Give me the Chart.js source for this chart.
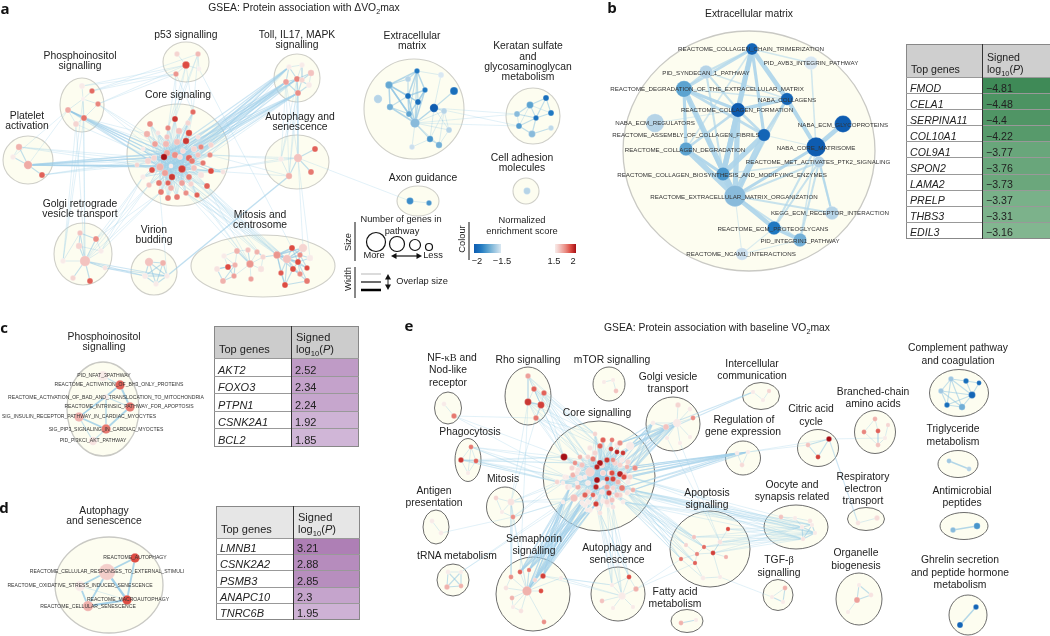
<!DOCTYPE html>
<html>
<head>
<meta charset="utf-8">
<title>GSEA enrichment maps</title>
<script src="https://cdn.jsdelivr.net/npm/chart.js@4/dist/chart.umd.min.js"></script>
<style>
    html, body { margin: 0; padding: 0; background: #fff; overflow: hidden; }
    #page { position: relative; width: 1050px; height: 636px; font-family: "Liberation Sans", Arial, sans-serif; color: #222; }
    #network { position: absolute; left: 0; top: 0; }
    .txt { position: absolute; transform: translate(-50%, -50%); white-space: nowrap; font-size: 10.35px; line-height: 1; }
    .leg { font-size: 9.3px; }
    .panel { font-weight: bold; font-size: 15px; color: #111; font-family: "Open Sans", "Liberation Sans", sans-serif; }
    .pw { font-size: 6.2px; color: #333; }
    .pw.small { font-size: 5.08px; }
    .rot { transform: translate(-50%, -50%) rotate(-90deg); }
    sub { font-size: 70%; line-height: 0; }
    .serif { font-family: "Liberation Serif", serif; }
    table.genes { position: absolute; border-collapse: collapse; table-layout: fixed; color: #222; border: 1.5px solid #888; }
    table.genes th { font-weight: normal; text-align: left; vertical-align: bottom; padding: 0 0 2px 4px; border: 0; line-height: 1.15; }
    table.genes td { padding: 0 0 0 3px; border-top: 1.5px solid #999; line-height: 1; vertical-align: bottom; }
    table.genes td:first-child { font-style: italic; }
    table.genes .split { border-left: 1.5px solid #333; }
</style>
</head>
<body>
<div id="page"><canvas id="network" width="1050" height="636"></canvas></div>
<script>
// Pathway nodes: [layout x, layout y, genes in pathway, normalized enrichment score]

// Panel a, protein association with change in VO2max
const aPlatelet = [[19,147,36,1.6],[13,157,25,1.42],[28,165,64,1.62],[42,175,30,1.8]];
const aPhospho = [[82,86,30,1.42],[92,91,25,1.78],[83,99,16,1.4],[98,104,25,1.72],[68,110,30,1.62],[84,118,30,1.76],[76,124,30,1.5]];
const aP53 = [[177,54,25,1.5],[198,54,25,1.58],[186,65,49,1.85],[199,69,20,1.4],[176,74,25,1.68]];
const aCore = [[193,112,25,1.78],[175,119,30,1.9],[150,124,30,1.7],[168,128,25,1.72],[188,123,25,1.5],[189,133,36,1.85],[179,131,36,1.55],[147,134,36,1.6],[167,137,25,1.55],[158,133,20,1.45],
    [186,141,36,1.9],[177,142,36,1.56],[198,137,20,1.45],[155,144,30,1.65],[166,144,36,1.58],[201,147,25,1.72],[211,145,25,1.5],[194,149,30,1.5],[183,151,25,1.48],[167,153,36,1.65],
    [143,149,20,1.42],[164,157,36,2.0],[175,155,36,1.7],[189,158,36,1.8],[192,161,30,1.75],[210,155,25,1.7],[198,155,25,1.55],[180,157,25,1.48],[203,163,25,1.75],[148,161,36,1.5],
    [154,158,30,1.5],[160,167,49,1.6],[137,165,20,1.5],[171,166,16,1.42],[182,169,49,1.88],[194,168,30,1.55],[152,170,30,1.85],[143,177,25,1.42],[165,173,36,1.65],[172,177,36,1.9],
    [168,183,25,1.8],[189,177,30,1.75],[211,171,30,1.85],[201,175,36,1.45],[223,172,20,1.45],[159,183,30,1.75],[149,185,25,1.55],[182,183,30,1.65],[191,184,25,1.5],[207,186,30,1.8],
    [171,188,30,1.6],[161,192,30,1.75],[177,197,30,1.75],[168,198,30,1.75],[186,193,25,1.7],[197,195,25,1.8]];
const aToll = [[289,67,25,1.42],[286,82,30,1.65],[297,79,30,1.72],[298,93,30,1.7],[302,65,25,1.42],[311,73,36,1.55],[309,85,30,1.42],[302,80,25,1.5]];
const aAutophagy = [[281,159,25,1.42],[298,158,64,1.55],[289,176,36,1.6],[315,149,30,1.8],[311,172,30,1.75]];
const aGolgi = [[80,233,25,1.55],[96,239,30,1.7],[79,246,36,1.5],[101,251,25,1.42],[63,261,25,1.42],[85,261,100,1.55],[105,268,20,1.45],[73,278,25,1.5],[90,281,30,1.8]];
const aVirion = [[149,262,64,1.55],[163,263,30,1.6],[145,276,30,1.42],[167,276,25,1.42],[156,284,25,1.42]];
const aMitosis = [[224,256,25,1.42],[237,251,30,1.6],[248,250,25,1.55],[257,252,25,1.6],[263,257,25,1.5],[217,269,30,1.45],[228,267,30,1.85],[235,265,25,1.6],[250,264,49,1.68],[261,269,36,1.45],
    [223,281,30,1.6],[234,276,25,1.65],[251,279,25,1.65],[277,255,49,1.68],[287,259,64,1.55],[292,248,30,1.85],[281,273,25,1.82],[293,269,30,1.85],[285,285,30,1.85],[298,262,30,1.85],
    [303,248,64,1.5],[310,258,36,1.42],[307,268,25,1.85],[300,274,25,1.7],[307,281,30,1.75],[300,255,25,1.7]];
const aEcm = [[417,71,25,-1.85],[441,75,30,-1.42],[408,79,30,-1.5],[389,85,49,-1.68],[425,90,25,-1.85],[454,91,56,-1.9],[378,99,64,-1.5],[408,96,30,-1.9],[418,102,30,-1.9],[390,107,36,-1.65],
    [434,108,64,-2],[444,111,30,-1.5],[409,114,30,-1.7],[415,123,81,-1.6],[449,130,30,-1.5],[430,139,36,-1.75],[439,145,36,-1.65],[412,147,25,-1.45]];
const aKeratan = [[546,98,30,-1.9],[530,105,42,-1.7],[517,114,30,-1.6],[551,113,30,-1.85],[536,118,25,-1.88],[519,126,30,-1.72],[532,134,42,-1.6],[551,128,25,-1.48]];
const aAxon = [[410,201,42,-1.78],[429,203,25,-1.75]];
const aAdhesion = [[527,191,42,-1.5]];

// Panel b, Extracellular matrix close-up
const bNodes = [[752,49,130,-1.95],[811,63,169,-1.42],[706,72,169,-1.5],[684,89,256,-1.7],[787,99,144,-1.95],[738,110,196,-2],[655,123,324,-1.5],[764,135,144,-1.95],[843,124,276,-2],
    [816,147,361,-2],[686,149,169,-1.7],[819,162,121,-1.5],[723,174,169,-1.75],[735,196,441,-1.6],[832,213,169,-1.5],[774,228,169,-1.85],[800,240,169,-1.65],[742,254,144,-1.45]];
const bNames = ["REACTOME_COLLAGEN_CHAIN_TRIMERIZATION","PID_AVB3_INTEGRIN_PATHWAY","PID_SYNDECAN_1_PATHWAY","REACTOME_DEGRADATION_OF_THE_EXTRACELLULAR_MATRIX","NABA_COLLAGENS","REACTOME_COLLAGEN_FORMATION","NABA_ECM_REGULATORS","REACTOME_ASSEMBLY_OF_COLLAGEN_FIBRILS","NABA_ECM_GLYCOPROTEINS",
    "NABA_CORE_MATRISOME","REACTOME_COLLAGEN_DEGRADATION","REACTOME_MET_ACTIVATES_PTK2_SIGNALING","REACTOME_COLLAGEN_BIOSYNTHESIS_AND_MODIFYING_ENZYMES","REACTOME_EXTRACELLULAR_MATRIX_ORGANIZATION","KEGG_ECM_RECEPTOR_INTERACTION","REACTOME_ECM_PROTEOGLYCANS","PID_INTEGRIN1_PATHWAY","REACTOME_NCAM1_INTERACTIONS"];
const bNameX = [751,811,706,707,787,737,655,686,843,816,685,818,722,734,830,773,800,741];
const bNameY = [49,63,73,89,100,110,123,135,125,148,150,162,175,197,213,229,241,254];
const bLinks = [[0,5,7],[0,12,9],[0,4,8],[0,7,5],[4,9,7],[4,5,6],[5,12,9],[5,13,9],[7,13,11],[7,12,9],[12,13,11],[3,10,5],[3,13,9],[3,5,5],[10,13,9],[10,12,5],[5,10,4],[3,12,4],[3,7,4],
    [8,9,8],[9,13,5],[13,15,7],[15,16,5],[9,15,3],[9,16,2],[11,15,3],[11,16,3],[14,11,3],[14,9,3],[13,14,3],[13,16,3],[2,0,3],[2,3,3],[2,5,3],[2,4,2],[2,12,3],[1,9,2],[1,0,2],
    [17,13,1],[17,16,1],[17,15,1],[7,9,1],[7,4,4],[5,7,4],[9,11,3],[4,13,3],[11,13,3],[11,12,2],[0,3,4],[0,10,2],[3,4,2],[6,5,1]];

// Panels c and d, single cluster close-ups
const cNodes = [[103,376,100,1.42],[120,385,81,1.8],[106,397,25,1.42],[130,407,81,1.75],[79,417,81,1.6],[106,429,81,1.75],[93,441,64,1.45]];
const cNames = ["PID_NFAT_3PATHWAY","REACTOME_ACTIVATION_OF_BH3_ONLY_PROTEINS","REACTOME_ACTIVATION_OF_BAD_AND_TRANSLOCATION_TO_MITOCHONDRIA","REACTOME_INTRINSIC_PATHWAY_FOR_APOPTOSIS","SIG_INSULIN_RECEPTOR_PATHWAY_IN_CARDIAC_MYOCYTES","SIG_PIP3_SIGNALING_IN_CARDIAC_MYOCTES","PID_PI3KCI_AKT_PATHWAY"];
const cNameX = [104,119,106,129,79,106,93];
const cNameY = [376,385,398,407,417,430,441];
const cLinks = [[0,1,2],[1,2,3],[1,3,4],[2,3,2],[2,4,3],[4,5,4],[3,5,4],[2,5,3],[1,4,3],[4,6,2],[5,6,2]];
const dNodes = [[135,558,81,1.85],[107,572,256,1.52],[80,586,100,1.42],[127,600,81,1.85],[88,606,100,1.6]];
const dNames = ["REACTOME_AUTOPHAGY","REACTOME_CELLULAR_RESPONSES_TO_EXTERNAL_STIMULI","REACTOME_OXIDATIVE_STRESS_INDUCED_SENESCENCE","REACTOME_MACROAUTOPHAGY","REACTOME_CELLULAR_SENESCENCE"];
const dNameX = [135,107,80,128,88];
const dNameY = [558,572,586,600,607];
const dLinks = [[0,1,4],[0,3,4],[1,3,5],[1,2,4],[1,4,4],[2,4,4],[3,4,5],[2,3,1]];

// Panel e, protein association with baseline VO2max
const eNfkb = [[444,404,20,1.42],[454,416,25,1.75]];
const eRho = [[528,376,25,1.65],[534,389,25,1.8],[544,393,25,1.8],[528,402,42,1.9],[541,405,42,1.88],[536,418,25,1.75]];
const eMtor = [[604,382,16,1.42],[613,380,16,1.42],[616,391,20,1.55]];
const eGolgi = [[678,405,25,1.5],[690,409,20,1.42],[693,418,20,1.7],[666,427,30,1.55],[677,423,64,1.42],[653,423,20,1.42],[667,438,16,1.42],[680,443,16,1.42],[690,437,16,1.42]];
const eCorePale = [[590,448,25,1.45],[617,445,25,1.42],[595,453,25,1.5],[587,457,20,1.42],[572,468,25,1.5],[565,477,25,1.42],[573,475,25,1.6],[578,470,25,1.45],[580,478,25,1.42],[558,482,20,1.42],
    [568,487,30,1.45],[578,487,25,1.6],[588,483,25,1.42],[588,492,25,1.5],[600,485,25,1.42],[602,492,25,1.45],[595,497,25,1.45],[612,490,25,1.42],[620,495,25,1.5],[628,492,25,1.42],
    [628,482,25,1.42],[625,475,25,1.5],[628,462,25,1.5],[622,460,25,1.42],[615,463,25,1.5],[602,465,30,1.5],[610,473,30,1.42],[603,473,25,1.42],[588,502,25,1.42],[603,501,25,1.42],
    [612,500,25,1.55],[582,498,25,1.45],[585,505,25,1.42],[598,508,25,1.42],[608,505,25,1.42],[590,510,25,1.42]];
const eCore = [[595,434,20,1.5],[564,457,42,2.0],[603,440,25,1.8],[612,440,20,1.75],[620,443,25,1.7],[600,446,25,1.8],[611,449,20,1.88],[617,452,20,1.95],[623,453,20,1.9],[630,446,64,1.42],
    [580,457,20,1.6],[588,457,20,1.5],[593,459,25,1.75],[600,463,30,1.98],[607,460,25,1.9],[613,460,20,1.7],[575,463,20,1.7],[582,465,25,1.55],[590,472,81,1.5],[597,467,25,1.95],
    [635,468,25,1.7],[620,465,25,1.5],[627,467,20,1.6],[577,473,20,1.45],[603,473,25,1.5],[612,473,25,1.85],[620,474,30,1.95],[624,477,25,1.85],[630,477,25,1.5],[567,477,16,1.42],
    [597,480,30,2.0],[607,479,20,1.9],[613,479,25,1.88],[618,482,25,1.6],[585,477,16,1.42],[563,483,16,1.42],[557,482,20,1.5],[577,483,16,1.42],[596,487,25,1.95],[607,487,25,1.65],
    [613,488,20,1.5],[622,488,30,1.75],[633,490,20,1.6],[585,495,25,1.8],[593,495,20,1.8],[609,493,25,1.9],[617,495,25,1.55],[574,498,49,1.55],[570,487,16,1.42],[582,503,20,1.42],
    [596,504,25,1.88],[607,502,25,1.5],[623,502,20,1.42],[587,510,16,1.42],[600,513,20,1.45],[613,507,20,1.45],[563,502,16,1.42],[627,493,20,1.45],[603,483,25,1.42]];
const ePhago = [[471,447,20,1.75],[461,460,25,1.9],[476,461,20,1.8],[468,473,16,1.42]];
const eMitosis = [[496,498,20,1.5],[511,502,42,1.45],[502,512,16,1.42],[513,517,20,1.7]];
const eAntigen = [[432,521,20,1.42],[441,533,20,1.42]];
const eTrna = [[448,572,20,1.42],[461,572,16,1.42],[447,587,25,1.6],[461,586,20,1.6]];
const eSema = [[520,572,20,1.8],[529,570,16,1.75],[543,576,25,1.88],[511,577,20,1.7],[506,588,20,1.45],[527,591,81,1.6],[541,591,20,1.85],[512,598,20,1.6],[561,578,16,1.42],[535,580,16,1.5],[513,607,16,1.42],[521,611,20,1.45],[544,622,20,1.7]];
const eAutophagy = [[629,577,20,1.85],[636,589,25,1.6],[602,601,20,1.55],[622,596,49,1.42],[612,585,16,1.42],[613,608,16,1.42],[633,607,16,1.42]];
const eFatty = [[681,623,20,1.6],[696,620,16,1.42]];
const eApoptosis = [[728,529,16,1.85],[694,537,16,1.55],[704,547,16,1.78],[713,553,20,1.88],[686,545,16,1.5],[697,554,16,1.72],[681,559,16,1.75],[695,563,16,1.8],[726,557,16,1.6],[720,542,20,1.45],[703,578,20,1.42],[720,577,16,1.42]];
const eIntercell = [[753,392,16,1.42],[769,391,16,1.5],[763,400,16,1.42]];
const eRegulation = [[737,453,16,1.42],[748,452,16,1.42],[742,465,20,1.48]];
const eCitric = [[808,445,20,1.55],[829,439,25,2.0],[818,457,20,1.88]];
const eBranched = [[875,419,20,1.6],[888,425,16,1.5],[864,432,20,1.72],[878,431,20,1.8],[878,445,20,1.55],[885,438,16,1.42]];
const eComplement = [[951,379,25,-1.55],[966,381,25,-1.9],[979,383,20,-1.92],[941,391,25,-1.55],[972,395,42,-1.95],[947,405,25,-1.9],[962,407,36,-1.65]];
const eTriglyc = [[949,461,20,-1.55],[969,469,20,-1.5]];
const eMicrobial = [[953,530,25,-1.6],[977,526,36,-1.75]];
const eGhrelin = [[976,607,25,-1.95],[960,625,30,-1.95]];
const eRespiratory = [[858,523,20,1.45],[877,518,25,1.48]];
const eOocyte = [[781,517,20,1.55],[810,521,20,1.45],[795,518,16,1.42],[803,539,16,1.45],[815,533,16,1.42],[812,525,16,1.42],[802,527,16,1.42]];
const eTgf = [[785,588,20,1.6],[772,597,16,1.42],[783,602,16,1.42]];
const eOrganelle = [[857,600,30,1.65],[871,595,20,1.45],[859,585,16,1.42],[848,612,16,1.42]];

// Links inside one cluster: [cluster, node, node, overlap]
const innerLinks = [
    [aPlatelet,0,1,1],[aPlatelet,0,2,2],[aPlatelet,1,2,2],[aPlatelet,2,3,2],
    [aPhospho,0,2,1],[aPhospho,1,2,1],[aPhospho,2,3,1],[aPhospho,2,4,1],[aPhospho,2,5,1],[aPhospho,4,5,3],[aPhospho,3,5,1],[aPhospho,5,6,1],[aPhospho,4,6,1],
    [aP53,1,3,1],[aP53,2,3,1],[aP53,2,4,1],[aP53,0,2,1],
    [aToll,0,1,2],[aToll,0,2,2],[aToll,1,2,2],[aToll,2,3,2],[aToll,1,3,2],[aToll,2,4,1],[aToll,2,5,2],[aToll,4,7,1],[aToll,5,6,1],[aToll,3,6,2],[aToll,7,3,2],[aToll,0,4,1],[aToll,2,6,2],[aToll,7,5,2],
    [aAutophagy,0,1,1],[aAutophagy,1,2,2],[aAutophagy,1,3,2],[aAutophagy,1,4,2],[aAutophagy,0,2,1],
    [aGolgi,5,0,2],[aGolgi,5,1,2],[aGolgi,5,2,2],[aGolgi,5,3,1],[aGolgi,5,4,1],[aGolgi,5,6,2],[aGolgi,5,7,2],[aGolgi,5,8,2],[aGolgi,0,1,2],[aGolgi,0,2,2],[aGolgi,2,3,1],[aGolgi,1,3,1],[aGolgi,0,4,1],
    [aVirion,0,1,2],[aVirion,0,2,2],[aVirion,0,3,2],[aVirion,0,4,2],[aVirion,1,2,2],[aVirion,1,3,2],[aVirion,1,4,2],[aVirion,2,3,2],[aVirion,2,4,2],[aVirion,3,4,2],
    [aMitosis,0,1,1],[aMitosis,0,7,1],[aMitosis,0,6,1],[aMitosis,1,8,2],[aMitosis,2,8,2],[aMitosis,3,8,1],[aMitosis,4,8,1],[aMitosis,5,6,2],[aMitosis,5,7,2],[aMitosis,6,7,2],[aMitosis,5,10,2],[aMitosis,6,11,2],[aMitosis,7,11,2],[aMitosis,10,11,2],[aMitosis,10,7,2],[aMitosis,8,9,1],[aMitosis,8,11,1],[aMitosis,8,12,1],[aMitosis,9,4,1],[aMitosis,1,7,1],[aMitosis,2,1,1],[aMitosis,3,4,1],[aMitosis,4,13,2],
    [aMitosis,13,15,3],[aMitosis,13,19,3],[aMitosis,14,15,2],[aMitosis,13,14,3],[aMitosis,13,16,2],[aMitosis,13,17,2],[aMitosis,13,18,2],[aMitosis,13,20,3],[aMitosis,14,16,2],[aMitosis,14,17,2],[aMitosis,14,18,2],[aMitosis,14,19,2],[aMitosis,14,20,3],[aMitosis,14,22,2],[aMitosis,14,23,2],[aMitosis,14,25,3],[aMitosis,19,15,2],[aMitosis,19,17,2],[aMitosis,19,20,2],[aMitosis,19,21,2],[aMitosis,19,22,2],[aMitosis,19,23,2],[aMitosis,19,24,2],[aMitosis,19,25,2],[aMitosis,17,18,2],[aMitosis,17,23,2],[aMitosis,17,24,2],[aMitosis,25,15,2],[aMitosis,25,20,3],[aMitosis,25,21,2],[aMitosis,25,22,2],[aMitosis,16,18,2],[aMitosis,24,18,2],
    [aEcm,0,2,2],[aEcm,0,3,3],[aEcm,0,4,3],[aEcm,0,7,3],[aEcm,0,8,2],[aEcm,0,12,2],[aEcm,0,13,2],[aEcm,0,1,1],[aEcm,2,3,2],[aEcm,2,7,2],[aEcm,3,7,3],[aEcm,3,9,3],[aEcm,3,12,3],[aEcm,3,13,3],[aEcm,3,8,2],[aEcm,4,7,3],[aEcm,4,8,3],[aEcm,4,13,3],[aEcm,4,12,2],[aEcm,7,8,2],[aEcm,7,9,2],[aEcm,7,12,3],[aEcm,7,13,3],[aEcm,8,12,2],[aEcm,8,13,3],[aEcm,9,13,3],[aEcm,9,12,2],[aEcm,12,13,3],[aEcm,10,5,2],[aEcm,10,13,3],[aEcm,10,11,2],[aEcm,10,1,1],[aEcm,10,15,1],[aEcm,13,14,1],[aEcm,13,15,2],[aEcm,13,16,1],[aEcm,13,17,1],[aEcm,15,16,2],[aEcm,14,16,1],[aEcm,11,15,1],[aEcm,11,16,1],[aEcm,11,14,1],[aEcm,11,13,1],[aEcm,15,17,1],[aEcm,10,14,1],
    [aKeratan,0,1,2],[aKeratan,0,3,2],[aKeratan,0,4,2],[aKeratan,1,2,2],[aKeratan,1,3,1],[aKeratan,1,4,2],[aKeratan,2,4,2],[aKeratan,3,4,2],[aKeratan,4,5,2],[aKeratan,4,6,2],[aKeratan,2,5,1],[aKeratan,5,6,2],[aKeratan,6,7,2],[aKeratan,1,5,1],
    [aAxon,0,1,1],
    [eRho,0,3,1],[eRho,0,4,1],[eRho,1,3,1],[eRho,2,4,1],[eRho,3,4,3],[eRho,3,5,1],[eRho,4,5,2],[eRho,1,4,1],
    [eNfkb,0,1,1],[eMtor,0,1,1],[eMtor,1,2,1],
    [ePhago,0,1,1],[ePhago,0,2,1],[ePhago,1,2,2],[ePhago,0,3,1],[ePhago,2,3,1],[ePhago,1,3,1],
    [eGolgi,4,0,1],[eGolgi,4,1,1],[eGolgi,4,2,1],[eGolgi,4,3,1],[eGolgi,4,5,1],[eGolgi,4,6,1],[eGolgi,4,7,1],[eGolgi,4,8,1],[eGolgi,3,5,2],
    [eMitosis,0,1,1],[eMitosis,1,2,1],[eMitosis,1,3,1],[eMitosis,2,3,1],[eMitosis,0,2,1],
    [eAntigen,0,1,1],
    [eTrna,0,1,1],[eTrna,0,2,2],[eTrna,0,3,2],[eTrna,1,2,2],[eTrna,1,3,2],[eTrna,2,3,2],
    [eSema,5,0,1],[eSema,5,1,2],[eSema,5,2,2],[eSema,5,3,1],[eSema,5,4,1],[eSema,5,6,1],[eSema,5,7,1],[eSema,5,8,1],[eSema,5,9,2],[eSema,5,10,1],[eSema,5,11,1],[eSema,5,12,1],[eSema,7,10,1],[eSema,10,11,1],[eSema,3,4,1],
    [eAutophagy,3,0,1],[eAutophagy,3,1,1],[eAutophagy,3,2,1],[eAutophagy,3,4,1],[eAutophagy,3,5,1],[eAutophagy,3,6,1],[eAutophagy,0,1,1],[eAutophagy,0,4,1],
    [eFatty,0,1,2],
    [eApoptosis,2,3,1],[eApoptosis,2,1,1],[eApoptosis,2,5,1],[eApoptosis,3,5,1],[eApoptosis,3,8,1],[eApoptosis,3,9,1],[eApoptosis,5,7,1],[eApoptosis,5,6,1],[eApoptosis,4,5,1],[eApoptosis,6,10,1],[eApoptosis,7,10,1],[eApoptosis,3,0,1],[eApoptosis,3,11,1],[eApoptosis,10,11,1],
    [eIntercell,0,2,1],[eIntercell,1,2,1],[eRegulation,0,1,1],[eRegulation,0,2,1],[eRegulation,1,2,1],
    [eCitric,0,1,2],[eCitric,1,2,2],[eCitric,0,2,2],
    [eBranched,0,3,1],[eBranched,0,2,1],[eBranched,3,4,1],[eBranched,1,5,1],[eBranched,4,5,1],[eBranched,2,4,1],
    [eComplement,0,1,2],[eComplement,0,3,2],[eComplement,0,4,2],[eComplement,0,5,2],[eComplement,0,6,2],[eComplement,1,2,2],[eComplement,1,4,2],[eComplement,2,4,2],[eComplement,3,4,2],[eComplement,3,5,2],[eComplement,3,6,2],[eComplement,4,5,2],[eComplement,4,6,2],[eComplement,5,6,2],
    [eTriglyc,0,1,3],[eMicrobial,0,1,3],[eGhrelin,0,1,3],[eRespiratory,0,1,1],
    [eOocyte,0,2,1],[eOocyte,2,1,1],[eOocyte,3,4,2],[eOocyte,3,5,2],[eOocyte,3,6,2],[eOocyte,4,5,2],[eOocyte,5,6,2],[eOocyte,4,6,2],[eOocyte,1,5,1],[eOocyte,2,6,1],
    [eTgf,0,1,1],[eTgf,0,2,2],[eTgf,1,2,2],
    [eOrganelle,0,1,2],[eOrganelle,0,2,2],[eOrganelle,0,3,1],[eOrganelle,1,2,2]
];

// Links between groups of nodes: [cluster, nodes, cluster, nodes, overlap]
const coreHubsA = [22,27,33,31,19,34,38];
const coreHubsE = [13,18,24,25,30,31,38,39];
const bundleLinks = [
    [aCore,coreHubsA,aCore,[0,1,2,3,4,5,6,7,8,9,10,11,12,13,14,15,16,17,18,20,21,23,24,25,26,28,29,30,32,35,36,37,39,40,41,42,43,44,45,46,47,48,49,50,51,52,53,54,55],1],
    [aCore,[27,33,22,34,19],aToll,[0,1,3,2],2],
    [aCore,[26,25,15,17],aToll,[1,3,0],1],
    [aCore,[31,21,19,33],aPlatelet,[2],3],
    [aCore,[29,30,32],aPlatelet,[2,3,0],1],
    [aCore,[21,33,19,31],aPhospho,[4,5],2],
    [aCore,[7,13],aPhospho,[5,3],1],
    [aPhospho,[6,3],aCore,[33],1],
    [aPhospho,[1,0,3],aP53,[2,4],1],
    [aPhospho,[1],aP53,[1],1],
    [aP53,[2,4,1],aCore,[1,0,3],1],
    [aP53,[3],aMitosis,[15],1],
    [aPhospho,[6,2,5],aGolgi,[5,4],1],
    [aPhospho,[4],aPlatelet,[2,1],1],
    [aCore,[46,37,51],aGolgi,[3,1,5],1],
    [aCore,[45],aVirion,[3],1],
    [aGolgi,[5,6],aVirion,[2,3],2],
    [aVirion,[3],aAutophagy,[2],3],
    [aCore,[55,54,49,48],aMitosis,[13,8,14,4],1],
    [aCore,[34,41],aMitosis,[13,14],1],
    [aCore,[42,25],aAutophagy,[0,1,2],1],
    [aToll,[1,3,2],aAutophagy,[0,1,2],1],
    [aAutophagy,[1],aMitosis,[20,21],1],
    [aAutophagy,[1],aAxon,[0],1],
    [aEcm,[10,13],aKeratan,[2,5],1],
    [eCore,coreHubsE,eCore,[0,1,2,3,4,5,6,7,8,9,10,11,12,14,15,16,17,19,20,21,22,23,26,27,28,29,32,33,34,35,36,37,40,41,42,43,44,45,46,47,48,49,50,51,52,53,54,55,56,57,58],1],
    [eSema,[5,0,1,2,9],eCore,[47,49,43,53,44,50,56,48],2],
    [eGolgi,[5,3,4],eCore,[9,4,8,22,21,20,27],2],
    [eRegulation,[0,1],eCore,[20,28,42,22,26,27,41],2],
    [eOocyte,[3,4,5,6],eCore,[42,57,52,41,28],1],
    [eApoptosis,[1,2,3,9,0],eOocyte,[3,4,6],1],
    [ePhago,[0,1,2],eCore,[1,16,29,36,35],1],
    [eRho,[0,1,2,3,5],eCore,[1,10,11,0,5],1],
    [eNfkb,[1],eCore,[1,29],1],
    [eNfkb,[1],eRho,[5],1],
    [eMitosis,[1,3],eCore,[36,56,35,47],1],
    [eMitosis,[1,3],eSema,[3,5],1],
    [eAntigen,[1],eMitosis,[3],1],
    [eTrna,[1],eCore,[56,47],1],
    [eAutophagy,[0,3,4],eCore,[50,51,54,55],1],
    [eApoptosis,[1,2,4,6,7],eCore,[52,46,42,41,57],1],
    [eAutophagy,[3,4],eSema,[2,8],1],
    [eAutophagy,[1],eApoptosis,[6,7],1],
    [eRho,[3],eSema,[0],1],
    [eRho,[3,5],eMitosis,[1],1],
    [eGolgi,[6,7],eApoptosis,[9],1],
    [eCore,[4,9],eIntercell,[0],2],
    [eCitric,[0,1],eRegulation,[1],1],
    [eCitric,[1],eBranched,[5],1],
    [eCitric,[1],eRespiratory,[0],2],
    [eTgf,[1],eApoptosis,[11],1]
];

// Cluster shells: [centre x, centre y, half width, half height]
const aShells = [[28,160,25,24],[82,105,22,27],[186,62,23,20],[178,155,51,51],[297,78,23,24],[297,162,32,27],[83,254,29,31],[154,272,23,23],[263,266,72,31],[414,109,50,50],[533,116,27,28],[526,191,13,13],[418,201,21,15]];
const panelShells = [[749,151,126,120],[103,409,36,47],[109,585,54,48]];
const eShells = [[448,408,13.5,16],[528,396,23,29],[609,384,16,17],[673,424,27,27],[599,476,56,55],[468,460,13,21.5],[505,507,18.5,20],[436,527,13,17],[453,580,16,16],[533,594,37,37],[618,594,27,27],[687,621,16,11.5],[710,549,40,38],
    [761,396,18.5,13.5],[743,458,17.5,17],[818,448,20.5,18.5],[875,432,20.5,21.5],[959,393,29.5,23.5],[958,464,20,13.5],[964,526,24,13.5],[968,615,19,20],[866,519,18.5,11.5],[796,527,32,22],[778,595,15,15.5],[859,599,23,26]];

// Text labels: [x, y, text]
const clusterLabels = [
    [27,116,"Platelet"],[27,126,"activation"],[80,56,"Phosphoinositol"],[80,66,"signalling"],[186,35,"p53 signalling"],[178,95,"Core signaling"],
    [297,35,"Toll, IL17, MAPK"],[297,45,"signalling"],[300,117,"Autophagy and"],[300,127,"senescence"],[80,204,"Golgi retrograde"],[80,214,"vesicle transport"],[154,230,"Virion"],[154,240,"budding"],[260,215,"Mitosis and"],[260,225,"centrosome"],
    [412,36,"Extracellular"],[412,46,"matrix"],[528,46,"Keratan sulfate"],[528,57,"and"],[528,67,"glycosaminoglycan"],[528,77,"metabolism"],[522,158,"Cell adhesion"],[522,168,"molecules"],[423,178,"Axon guidance"],
    [749,14,"Extracellular matrix"],[104,337,"Phosphoinositol"],[104,347,"signalling"],[104,511,"Autophagy"],[104,521,"and senescence"],
    [452,358,'NF-<span class="serif">κB</span> and'],[448,370,"Nod-like"],[448,383,"receptor"],[528,360,"Rho signalling"],[612,360,"mTOR signalling"],[668,377,"Golgi vesicle"],[668,389,"transport"],[597,413,"Core signalling"],
    [470,432,"Phagocytosis"],[503,479,"Mitosis"],[434,491,"Antigen"],[434,503,"presentation"],[457,556,"tRNA metabolism"],[534,539,"Semaphorin"],[534,551,"signalling"],[617,548,"Autophagy and"],[617,560,"senescence"],[675,592,"Fatty acid"],[675,604,"metabolism"],[707,493,"Apoptosis"],[707,505,"signalling"],
    [752,364,"Intercellular"],[752,376,"communication"],[744,420,"Regulation of"],[743,432,"gene expression"],[811,409,"Citric acid"],[811,422,"cycle"],[873,392,"Branched-chain"],[873,404,"amino acids"],[958,348,"Complement pathway"],[958,361,"and coagulation"],[953,429,"Triglyceride"],[953,442,"metabolism"],[962,491,"Antimicrobial"],[962,503,"peptides"],[960,560,"Ghrelin secretion"],[960,573,"and peptide hormone"],[960,585,"metabolism"],[863,477,"Respiratory"],[863,489,"electron"],[863,501,"transport"],[792,485,"Oocyte and"],[792,497,"synapsis related"],
    [779,560,'TGF-<span class="serif">β</span>'],[779,573,"signalling"],[856,553,"Organelle"],[856,566,"biogenesis"]
];
const legendLabels = [[401,220,"Number of  genes in"],[402,232,"pathway"],[374,256,"More"],[433,256,"Less"],[422,282,"Overlap size"],[522,221,"Normalized"],[522,232,"enrichment score"],
    [477,262,"−2"],[502,262,"−1.5"],[554,262,"1.5"],[573,262,"2"]];
const titleLabels = [[304,8,"GSEA: Protein association with ΔVO<sub>2</sub>max"],[717,328,"GSEA: Protein association with baseline VO<sub>2</sub>max"]];
const panelLetters = [[5,8,"a"],[612,7,"b"],[4,327,"c"],[4,507,"d"],[409,325,"e"]];
const rotatedLabels = [[349,242,"Size"],[349,279,"Width"],[463,239,"Colour"]];

// Legend values
const legendGenes = [361,225,121,49];
const legendGeneX = [376,397,415,429];
const legendGeneY = [242,244,245,247];
const legendOverlap = [1,3,6];
const legendOverlapY = [274,282,290];
const legendOverlapColor = ["#999","#333","#000"];
const legendBarNes = [[-2,-1.42],[1.42,2]];

// Top gene tables
const bGenes = ["FMOD","CELA1","SERPINA11","COL10A1","COL9A1","SPON2","LAMA2","PRELP","THBS3","EDIL3"];
const bSignedLog = ["−4.81","−4.48","−4.4","−4.22","−3.77","−3.76","−3.73","−3.37","−3.31","−3.16"];
const cGenes = ["AKT2","FOXO3","PTPN1","CSNK2A1","BCL2"];
const cSignedLog = ["2.52","2.34","2.24","1.92","1.85"];
const dGenes = ["LMNB1","CSNK2A2","PSMB3","ANAPC10","TNRC6B"];
const dSignedLog = ["3.21","2.88","2.85","2.3","1.95"];

// Colour scale of the enrichment score
const redStops = [[0,248,240,238],[0.15,246,216,213],[0.5,234,143,135],[0.75,221,76,66],[1,165,15,21]];
const blueStops = [[0,226,237,245],[0.15,186,214,232],[0.5,92,163,208],[0.75,31,120,193],[1,14,92,176]];
function nesColor(nes) {
    const stops = nes > 0 ? redStops : blueStops;
    const t = Math.min(1, Math.max(0, (Math.abs(nes) - 1.4) / 0.6));
    for (let i = 1; i < stops.length; i++) {
        if (t <= stops[i][0]) {
            const a = stops[i - 1], b = stops[i];
            const f = (t - a[0]) / (b[0] - a[0]);
            return `rgb(${a[1] + (b[1] - a[1]) * f},${a[2] + (b[2] - a[2]) * f},${a[3] + (b[3] - a[3]) * f})`;
        }
    }
    return 'rgb(165,15,21)';
}

// Edge datasets, one per link so that bundles build up in darkness
function linkDataset(p, q, overlap, rgb, order, widthScale) {
    return {
        type: 'scatter',
        showLine: true,
        order: order,
        pointRadius: 0,
        borderColor: `rgba(${rgb},${Math.min(0.9, 0.3 + 0.12 * overlap)})`,
        borderWidth: (0.35 + 0.38 * overlap) * (widthScale || 1),
        data: [{ x: p[0], y: p[1] }, { x: q[0], y: q[1] }]
    };
}

const datasets = [];
innerLinks.forEach(l => datasets.push(linkDataset(l[0][l[1]], l[0][l[2]], l[3], '140,195,226', 3)));
bundleLinks.forEach(b => {
    b[1].forEach(i => b[3].forEach(j => {
        datasets.push(linkDataset(b[0][i], b[2][j], b[4], '160,207,232', 3));
    }));
});
bLinks.forEach(l => datasets.push(linkDataset(bNodes[l[0]], bNodes[l[1]], l[2], '172,212,234', 2, 1.4)));
cLinks.forEach(l => datasets.push(linkDataset(cNodes[l[0]], cNodes[l[1]], l[2], '150,202,230', 2)));
dLinks.forEach(l => datasets.push(linkDataset(dNodes[l[0]], dNodes[l[1]], l[2], '150,202,230', 2)));

// Width legend
legendOverlap.forEach((o, i) => {
    datasets.push({
        type: 'scatter', showLine: true, order: 2, pointRadius: 0,
        borderColor: legendOverlapColor[i], borderWidth: 0.35 + 0.36 * o,
        data: [{ x: 361, y: legendOverlapY[i] }, { x: 381, y: legendOverlapY[i] }]
    });
});

// Pathway nodes
const allNodes = [aPlatelet, aPhospho, aP53, aCore, aToll, aAutophagy, aGolgi, aVirion, aMitosis, aEcm, aKeratan, aAxon, aAdhesion,
    bNodes, cNodes, dNodes,
    eNfkb, eRho, eMtor, eGolgi, eCorePale, eCore, ePhago, eMitosis, eAntigen, eTrna, eSema, eAutophagy, eFatty, eApoptosis, eIntercell, eRegulation, eCitric, eBranched, eComplement, eTriglyc, eMicrobial, eGhrelin, eRespiratory, eOocyte, eTgf, eOrganelle].flat();
datasets.push({
    type: 'bubble',
    order: 1,
    data: allNodes.map(n => ({ x: n[0], y: n[1], r: Math.sqrt(n[2]) / 2 + 0.2 })),
    backgroundColor: allNodes.map(n => nesColor(n[3])),
    borderColor: 'rgba(255,255,255,0.45)',
    borderWidth: 0.5
});

// Size legend
datasets.push({
    type: 'bubble',
    order: 1,
    data: legendGenes.map((g, i) => ({ x: legendGeneX[i], y: legendGeneY[i], r: Math.sqrt(g) / 2 })),
    backgroundColor: 'rgba(0,0,0,0)',
    borderColor: '#111',
    borderWidth: 1.2
});

// Shells sit under the links, legend furniture on top
const shellPlugin = {
    id: 'shells',
    beforeDatasetsDraw(chart) {
        const { ctx, scales: { x, y } } = chart;
        const shell = (s, stroke, w) => {
            const cx = x.getPixelForValue(s[0]), cy = y.getPixelForValue(s[1]);
            ctx.beginPath();
            ctx.ellipse(cx, cy, x.getPixelForValue(s[0] + s[2]) - cx, y.getPixelForValue(s[1] + s[3]) - cy, 0, 0, Math.PI * 2);
            ctx.fillStyle = '#fdfdf0';
            ctx.fill();
            ctx.strokeStyle = stroke;
            ctx.lineWidth = w;
            ctx.stroke();
        };
        ctx.save();
        aShells.forEach(s => shell(s, '#cfcfc8', 1.1));
        panelShells.forEach(s => shell(s, '#c9c9c4', 1.3));
        eShells.forEach(s => shell(s, '#5c5c5c', 0.9));
        ctx.restore();
    },
    afterDatasetsDraw(chart) {
        const { ctx, scales: { x, y } } = chart;
        const line = (x0, y0, x1, y1, w) => {
            ctx.beginPath();
            ctx.moveTo(x.getPixelForValue(x0), y.getPixelForValue(y0));
            ctx.lineTo(x.getPixelForValue(x1), y.getPixelForValue(y1));
            ctx.lineWidth = w;
            ctx.stroke();
        };
        const head = (px, py, dx, dy) => {
            ctx.beginPath();
            ctx.moveTo(x.getPixelForValue(px), y.getPixelForValue(py));
            ctx.lineTo(x.getPixelForValue(px - dx * 5.5 - dy * 3), y.getPixelForValue(py - dy * 5.5 - dx * 3));
            ctx.lineTo(x.getPixelForValue(px - dx * 5.5 + dy * 3), y.getPixelForValue(py - dy * 5.5 + dx * 3));
            ctx.closePath();
            ctx.fill();
        };
        ctx.save();
        ctx.strokeStyle = '#111';
        ctx.fillStyle = '#111';
        line(355, 222, 355, 261, 1);
        line(355, 267, 355, 298, 1);
        line(469, 222, 469, 260, 1);
        line(394, 256, 419, 256, 1.2);
        head(391, 256, -1, 0);
        head(422, 256, 1, 0);
        line(388, 277, 388, 287, 0.9);
        head(388, 274, 0, -1);
        head(388, 290, 0, 1);
        // colour bars
        [[474, 501], [555, 576]].forEach((b, k) => {
            const x0 = x.getPixelForValue(b[0]), x1 = x.getPixelForValue(b[1]);
            const grad = ctx.createLinearGradient(x0, 0, x1, 0);
            const span = legendBarNes[k];
            for (let i = 0; i <= 10; i++) {
                grad.addColorStop(i / 10, nesColor(span[0] + (span[1] - span[0]) * i / 10));
            }
            ctx.fillStyle = grad;
            ctx.fillRect(x0, y.getPixelForValue(244), x1 - x0, y.getPixelForValue(253) - y.getPixelForValue(244));
        });
        ctx.restore();
    }
};

new Chart(document.getElementById('network'), {
    type: 'bubble',
    data: { datasets },
    options: {
        responsive: false,
        animation: false,
        events: [],
        layout: { padding: 0, autoPadding: false },
        scales: {
            x: { type: 'linear', min: 0, max: 1050, display: false },
            y: { type: 'linear', min: 0, max: 636, reverse: true, display: false }
        },
        plugins: { legend: { display: false }, tooltip: { enabled: false } }
    },
    plugins: [shellPlugin]
});

// Real text over the canvas
const page = document.getElementById('page');
function addText(x, y, html, cls) {
    const el = document.createElement('div');
    el.className = 'txt ' + (cls || '');
    el.style.left = x + 'px';
    el.style.top = y + 'px';
    el.innerHTML = html;
    page.appendChild(el);
}
clusterLabels.forEach(l => addText(l[0], l[1], l[2]));
legendLabels.forEach(l => addText(l[0], l[1], l[2], 'leg'));
titleLabels.forEach(l => addText(l[0], l[1], l[2]));
panelLetters.forEach(l => addText(l[0], l[1], l[2], 'panel'));
rotatedLabels.forEach(l => addText(l[0], l[1], l[2], 'leg rot'));
bNames.forEach((n, i) => addText(bNameX[i], bNameY[i], n, 'pw'));
cNames.forEach((n, i) => addText(cNameX[i], cNameY[i], n, 'pw small'));
dNames.forEach((n, i) => addText(dNameX[i], dNameY[i], n, 'pw small'));

// Gene tables
function shade(value, low, high, lowColor, highColor) {
    const f = Math.min(1, Math.max(0, (Math.abs(value) - low) / (high - low)));
    const c = lowColor.map((v, i) => Math.round(v + (highColor[i] - v) * f));
    return `rgb(${c.join(',')})`;
}
function addTable(genes, values, left, top, col1, col2, headH, rowH, headBg, fontPx, paint) {
    const t = document.createElement('table');
    t.className = 'genes';
    t.style.left = left + 'px';
    t.style.top = top + 'px';
    t.style.width = (col1 + col2) + 'px';
    t.style.fontSize = fontPx + 'px';
    let html = `<colgroup><col style="width:${col1}px"><col style="width:${col2}px"></colgroup>`;
    html += `<tr style="height:${headH}px;background:${headBg}"><th>Top genes</th><th class="split">Signed<br>log<sub>10</sub>(<i>P</i>)</th></tr>`;
    genes.forEach((g, i) => {
        html += `<tr style="height:${rowH}px"><td>${g}</td><td class="split" style="background:${paint(values[i])}">${values[i]}</td></tr>`;
    });
    t.innerHTML = html;
    page.appendChild(t);
}
const greenCell = v => shade(parseFloat(v.replace('−', '-')), 3.1, 4.81, [132, 184, 146], [63, 138, 87]);
const purpleCell = v => shade(parseFloat(v), 1.85, 3.21, [208, 182, 215], [174, 127, 181]);
addTable(bGenes, bSignedLog, 906, 44, 76, 68, 33, 16.1, '#cfcfcf', 10.6, greenCell);
addTable(cGenes, cSignedLog, 214, 326, 77, 67, 32, 17.6, '#cccccc', 11, purpleCell);
addTable(dGenes, dSignedLog, 216, 506, 77, 66, 32, 16.2, '#e6e6e6', 11, purpleCell);
</script>
</body>
</html>
